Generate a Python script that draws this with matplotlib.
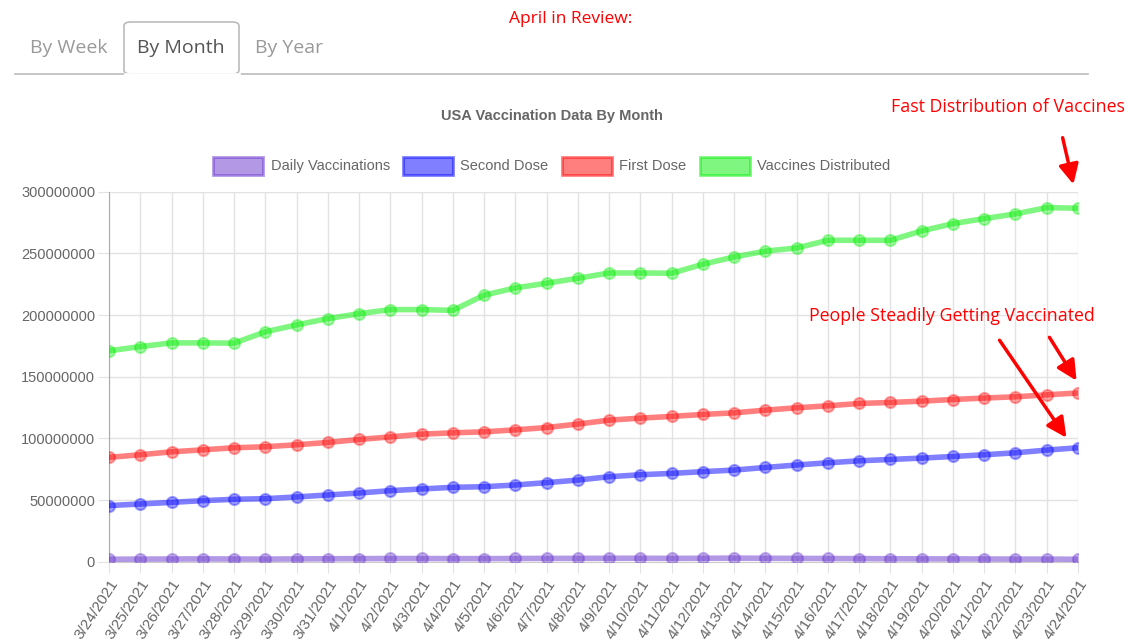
import matplotlib
matplotlib.use("Agg")
import matplotlib.pyplot as plt
from matplotlib.patches import FancyBboxPatch, Rectangle
from matplotlib.lines import Line2D
import numpy as np

W, H = 1128, 644

#%% data (millions)
dates = ['3/24/2021', '3/25/2021', '3/26/2021', '3/27/2021', '3/28/2021', '3/29/2021',
         '3/30/2021', '3/31/2021', '4/1/2021', '4/2/2021', '4/3/2021', '4/4/2021',
         '4/5/2021', '4/6/2021', '4/7/2021', '4/8/2021', '4/9/2021', '4/10/2021',
         '4/11/2021', '4/12/2021', '4/13/2021', '4/14/2021', '4/15/2021', '4/16/2021',
         '4/17/2021', '4/18/2021', '4/19/2021', '4/20/2021', '4/21/2021', '4/22/2021',
         '4/23/2021', '4/24/2021']

daily_vacc = [2.0, 2.1, 2.2, 2.3, 2.2, 2.1, 2.3, 2.4, 2.5, 2.6, 2.6, 2.5,
              2.5, 2.6, 2.7, 2.7, 2.8, 2.8, 2.7, 2.8, 2.9, 2.8, 2.7, 2.6,
              2.5, 2.4, 2.3, 2.3, 2.2, 2.1, 2.1, 2.0]

second_dose = [45.5, 46.8, 48.1, 49.5, 50.6, 51.1, 52.5, 54.1, 55.7, 57.6, 59.0, 60.3,
               60.8, 62.2, 64.1, 66.2, 68.9, 70.5, 71.6, 73.0, 74.3, 76.4, 78.4, 80.2,
               81.8, 82.9, 84.0, 85.3, 86.7, 88.3, 90.5, 92.4]

first_dose = [84.6, 86.7, 89.1, 90.7, 92.4, 93.2, 94.8, 96.7, 99.1, 101.2, 103.4, 104.5,
              105.3, 106.9, 108.8, 111.6, 114.8, 116.4, 117.8, 119.4, 120.7, 122.9, 124.8, 126.4,
              128.3, 129.1, 130.2, 131.5, 132.7, 133.7, 135.3, 136.8]

vacc_distributed = [171.0, 174.4, 177.4, 177.4, 177.2, 186.4, 192.0, 197.1, 201.1, 204.4, 204.4, 203.8,
                    216.1, 222.0, 225.8, 229.8, 234.1, 234.1, 233.9, 241.2, 247.1, 251.8, 254.4, 260.6,
                    260.6, 260.6, 268.2, 274.1, 278.2, 282.0, 287.1, 286.6]

labels = ['Daily Vaccinations', 'Second Dose', 'First Dose', 'Vaccines Distributed']
colors = ['#6633cc', '#0000ff', '#ff0000', '#00ee00']
series = [daily_vacc, second_dose, first_dose, vacc_distributed]

#%% figure
plt.rcParams['font.family'] = ['Liberation Sans', 'DejaVu Sans']
fig = plt.figure(figsize=(W / 100, H / 100), dpi=100)
fig.patch.set_facecolor('white')

def fy(y):
    # top based pixel -> figure fraction
    return 1 - y / H

def fx(x):
    return x / W

ax = fig.add_axes([fx(109), fy(561.7), fx(1078) - fx(109), fy(191.7) - fy(561.7)])
x = np.arange(len(dates))
for vals, c in zip(series, colors):
    v = np.array(vals) * 1e6
    ax.plot(x, v, color=c, alpha=0.5, lw=4, solid_capstyle='round', zorder=3)
    ax.plot(x, v, ls='none', marker='o', ms=8, mfc=c, mec=c, alpha=0.35, mew=1.5, zorder=4)

ax.set_xlim(0, len(dates) - 1)
ax.set_ylim(0, 300000000)
ax.set_yticks(np.arange(0, 300000001, 50000000))
ax.yaxis.set_major_formatter(matplotlib.ticker.FuncFormatter(lambda v, p: '%d' % v))
ax.set_xticks(x)
ax.set_xticklabels(dates, rotation=57, ha='right', va='top', rotation_mode='anchor')
ax.tick_params(axis='x', length=8, color='#e2e2e2', labelsize=11, labelcolor='#666666', pad=3)
ax.tick_params(axis='y', length=8, color='#e2e2e2', labelsize=10.5, labelcolor='#666666', pad=2)
ax.grid(True, color='#e2e2e2', lw=1)
ax.set_axisbelow(True)
for s in ['top', 'right']:
    ax.spines[s].set_visible(False)
ax.spines['left'].set_color('#aaaaaa')
ax.spines['bottom'].set_color('#cccccc')

# title
fig.text(fx(552), fy(116), 'USA Vaccination Data By Month', ha='center', va='center',
         fontsize=10.5, fontweight='bold', color='#666666')

# legend (boxes + labels)
leg_items = [(213, 271), (403, 460), (562, 619), (700, 757)]
for (bx, tx), lab, c in zip(leg_items, labels, colors):
    fig.patches.append(Rectangle((fx(bx), fy(175)), fx(50), 18 / H, transform=fig.transFigure,
                                 facecolor=c, alpha=0.5, edgecolor=c, lw=2))
    fig.text(fx(tx), fy(166), lab, ha='left', va='center', fontsize=10.5, color='#666666')

# tabs
tab_font = ['Open Sans', 'DejaVu Sans']
fig.add_artist(Line2D([fx(15), fx(1088)], [fy(74), fy(74)], color='#bbbbbb', lw=1.2))
fig.patches.append(FancyBboxPatch((fx(124), fy(74)), fx(115), 52 / H, transform=fig.transFigure,
                                  boxstyle='round,pad=0,rounding_size=0.006', facecolor='white',
                                  edgecolor='#bbbbbb', lw=1.2))
fig.add_artist(Line2D([fx(124.5), fx(238.5)], [fy(74), fy(74)], color='white', lw=2))
fig.text(fx(69), fy(48), 'By Week', ha='center', va='center', fontsize=14, color='#999999', family=tab_font)
fig.text(fx(181), fy(48), 'By Month', ha='center', va='center', fontsize=14, color='#555555', family=tab_font)
fig.text(fx(289), fy(48), 'By Year', ha='center', va='center', fontsize=14, color='#999999', family=tab_font)

# red annotations
red_font = ['Open Sans', 'DejaVu Sans']
fig.text(fx(571), fy(19), 'April in Review:', ha='center', va='center', fontsize=12.5,
         color='red', family=red_font)
fig.text(fx(1008), fy(107), 'Fast Distribution of Vaccines', ha='center', va='center',
         fontsize=12.8, color='red', family=red_font)
fig.text(fx(952), fy(316), 'People Steadily Getting Vaccinated', ha='center', va='center',
         fontsize=12.8, color='red', family=red_font)

arrows = [((1062, 135), (1074, 187)), ((998, 338), (1068, 440)), ((1048, 335), (1078, 383))]
for (x0, y0), (x1, y1) in arrows:
    fig.add_artist(matplotlib.patches.FancyArrowPatch((fx(x0), fy(y0)), (fx(x1), fy(y1)),
                                                      transform=fig.transFigure,
                                                      arrowstyle='-|>,head_length=8,head_width=4',
                                                      color='red', lw=2.5, mutation_scale=1.5))

fig.savefig('out.png', dpi=100)
